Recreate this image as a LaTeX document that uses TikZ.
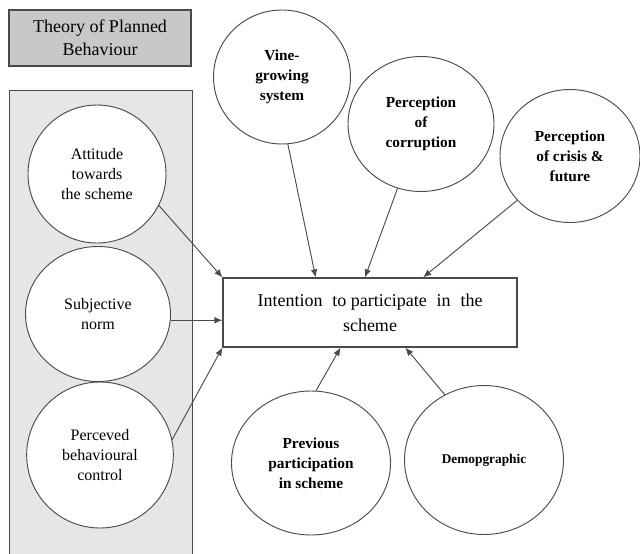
\documentclass[tikz,border=0pt]{standalone}
\usepackage{fontspec}
\setmainfont{Liberation Serif}
\usepackage{xcolor}
\usetikzlibrary{arrows.meta,positioning,shapes.geometric,calc}
\definecolor{tpbgray}{HTML}{C8C8C8}
\definecolor{panelgray}{HTML}{E6E6E6}
\definecolor{edgegray}{HTML}{4A4A4A}

\begin{document}
\begin{tikzpicture}[x=0.75pt, y=-0.75pt, >={Latex[length=6pt,width=5pt]},
  factor/.style={draw=edgegray, line width=0.7pt, ellipse, fill=white, inner sep=0pt, align=center, font=\fontsize{12}{15}\selectfont},
  extfactor/.style={factor, font=\fontsize{11.5}{15}\selectfont\bfseries},
  link/.style={->, line width=0.7pt, draw=edgegray}]
  \useasboundingbox (0,0) rectangle (640,554);

  \node[draw=edgegray, line width=1pt, fill=tpbgray, minimum width=136.5pt, minimum height=42pt, align=center, font=\fontsize{13.5}{17.5}\selectfont] (tpb) at (100,38) {Theory of Planned\\Behaviour};
  \node[draw=edgegray, line width=1pt, fill=panelgray, minimum width=137.25pt, minimum height=360pt, anchor=north west] (panel) at (9,90) {};

  \node[factor, minimum width=103.5pt, minimum height=103.5pt] (att) at (97,174) {Attitude\\towards\\the scheme};
  \node[factor, minimum width=108.75pt, minimum height=101.25pt] (subj) at (98,314) {Subjective\\norm};
  \node[factor, minimum width=110pt, minimum height=109.5pt] (pbc) at (100,455) {Perceved\\behavioural\\control};

  \node[draw=edgegray, line width=1pt, minimum width=220.5pt, minimum height=51.75pt, align=center, font=\fontsize{13.5}{18.75}\selectfont] (intent) at (370,312.5) {Intention\hspace{4pt} to participate\hspace{4pt} in\hspace{4pt} the\\scheme};

  \node[extfactor, minimum width=102.75pt, minimum height=100.5pt] (vine) at (282,77) {Vine-\\growing\\system};
  \node[extfactor, minimum width=109.5pt, minimum height=101.25pt] (corr) at (421,124) {Perception\\of\\corruption};
  \node[extfactor, minimum width=105pt, minimum height=99.75pt] (crisis) at (570,156) {Perception\\of crisis \&\\future};
  \node[extfactor, minimum width=119.25pt, minimum height=108pt] (prev) at (311,463) {Previous\\participation\\in scheme};
  \node[extfactor, minimum width=119.25pt, minimum height=111.75pt, font=\fontsize{10}{13}\selectfont\bfseries] (demo) at (484,460) {Demopgraphic};

  % arrow ends on the box
  \coordinate (inSubj) at ($(intent.north west)!0.61!(intent.south west)$);
  \coordinate (inVine) at ($(intent.north west)!0.316!(intent.north east)$);
  \coordinate (inCorr) at ($(intent.north west)!0.483!(intent.north east)$);
  \coordinate (inCrisis) at ($(intent.north west)!0.68!(intent.north east)$);
  \coordinate (inPrev) at ($(intent.south west)!0.40!(intent.south east)$);
  \coordinate (inDemo) at ($(intent.south west)!0.62!(intent.south east)$);

  \draw[link] (att.-27) -- (intent.north west);
  \draw[link] (subj.east |- inSubj) -- (inSubj);
  \draw[link] (pbc.12) -- (intent.south west);
  \draw[link] (vine.-85) -- (inVine);
  \draw[link] (corr.-110) -- (inCorr);
  \draw[link] (crisis.-140) -- (inCrisis);
  \draw[link] (prev.86) -- (inPrev);
  \draw[link] (demo.121) -- (inDemo);
\end{tikzpicture}
\end{document}
